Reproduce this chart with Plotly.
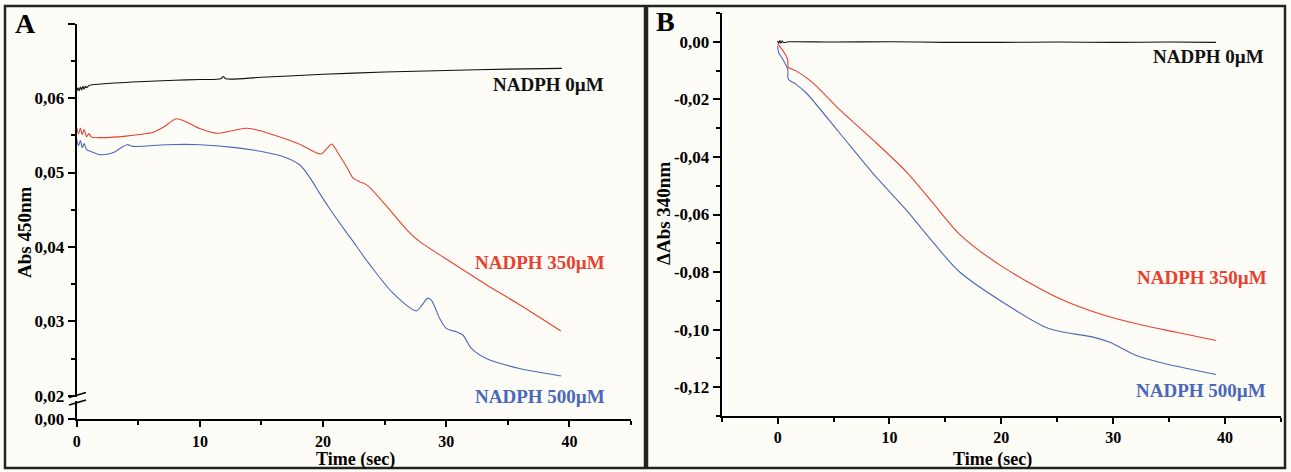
import plotly.graph_objects as go

# ---- data ------------------------------------------------------------------
# panel A : Abs 450nm vs time
a_t_0 = [0, 0.1, 0.2, 0.3, 0.4, 0.5, 0.6, 0.7, 0.8, 1.0, 2, 5, 8, 10, 11.7, 11.9, 12.1,
         15, 20, 25, 30, 35, 39.4]
a_v_0 = [0.0609, 0.0614, 0.0610, 0.0615, 0.0611, 0.0616, 0.0612, 0.0616, 0.0614, 0.0617,
         0.0619, 0.0622, 0.0624, 0.0625, 0.0626, 0.0629, 0.0626, 0.0628, 0.0632, 0.0635,
         0.0637, 0.0639, 0.0640]

a_t_350 = [0, 0.15, 0.3, 0.45, 0.6, 0.8, 1.0, 1.2, 2, 4, 6.2, 7, 8.1, 9, 10, 11.4, 12.5,
           13.7, 14.5, 16, 18, 19.8, 20.3, 20.7, 21.2, 22.0, 22.4, 23.0, 23.4, 23.8, 25,
           26.9, 27.8, 30.5, 33.25, 35.96, 39.3]
a_v_350 = [0.05608, 0.05523, 0.05597, 0.05509, 0.05577, 0.05482, 0.05523, 0.05476, 0.05469,
           0.05489, 0.05541, 0.05604, 0.05722, 0.05672, 0.05591, 0.05527, 0.05557, 0.05595,
           0.05577, 0.05503, 0.05388, 0.05249, 0.05320, 0.05384, 0.05266, 0.05050, 0.04932,
           0.04874, 0.04847, 0.04797, 0.04577, 0.04212, 0.04077, 0.03784, 0.03492, 0.03222,
           0.02870]

a_t_500 = [0, 0.15, 0.3, 0.45, 0.6, 0.8, 1.0, 1.9, 3.0, 3.6, 4.1, 4.6, 7.3, 10, 12.7, 15.4,
           16.8, 18.1, 19.0, 19.7, 20.5, 21.76, 22.3, 23.79, 25.68, 27.57, 28.0, 28.52, 28.8,
           29.06, 29.46, 30.0, 30.5, 30.82, 31.35, 32.04, 33.25, 35.96, 39.33]
a_v_500 = [0.05451, 0.05361, 0.05428, 0.05334, 0.05388, 0.05307, 0.05293, 0.05239, 0.05270,
           0.05334, 0.05374, 0.05351, 0.05374, 0.05374, 0.05338, 0.05270, 0.05212, 0.05104,
           0.04915, 0.04726, 0.04523, 0.04226, 0.04104, 0.03762, 0.03378, 0.03140, 0.03212,
           0.03311, 0.03280, 0.03199, 0.03041, 0.02905, 0.02874, 0.02861, 0.02816, 0.02635,
           0.02500, 0.02365, 0.02266]

# panel B : delta Abs 340nm vs time
b_t_0 = [0, 0.1, 0.2, 0.3, 0.4, 0.5, 1, 5, 10, 15, 20, 25, 30, 35, 39.2]
b_v_0 = [0.0003, -0.0006, 0.0004, -0.0005, 0.0003, -0.0002, 0.0, -0.0001, 0.0, -0.0002,
         -0.0002, -0.0001, -0.0002, -0.0001, -0.0002]

b_t_350 = [0.0, 0.15, 0.89, 0.96, 1.65, 3.13, 5.52, 8.5, 11.49, 13.84, 16.25, 20.12, 25.2,
           28.77, 32.65, 35.64, 39.21]
b_v_350 = [-0.0008, -0.0014, -0.0060, -0.0089, -0.0101, -0.0142, -0.0235, -0.0340, -0.0451,
           -0.0558, -0.0668, -0.0782, -0.0892, -0.0945, -0.0985, -0.1009, -0.1038]

b_t_500 = [0.0, 0.09, 0.45, 0.9, 0.96, 1.65, 2.54, 5.52, 8.5, 11.49, 13.9, 16.25, 20.1, 24.3,
           28.2, 29.7, 32.06, 34.1, 39.2]
b_v_500 = [-0.0015, -0.0037, -0.0060, -0.0095, -0.0130, -0.0148, -0.0177, -0.0316, -0.0456,
           -0.0584, -0.0697, -0.0799, -0.0904, -0.0997, -0.1026, -0.1044, -0.1090, -0.1113,
           -0.1156]

# tick labels
a_yticks = [0.02, 0.03, 0.04, 0.05, 0.06, 0.07]
a_yticks_minor = [0.025, 0.035, 0.045, 0.055, 0.065]
b_yticks = [-0.12, -0.10, -0.08, -0.06, -0.04, -0.02, 0.00]
b_yticks_minor = [-0.13, -0.11, -0.09, -0.07, -0.05, -0.03, -0.01, 0.01]

BLACK = '#111111'
RED = '#e8412f'
BLUE = '#4a68b8'
FONT = 'Liberation Serif'
W, H = 1291, 472


def px(x):
    return x / W


def py(y):
    return 1 - y / H


def comma(v):
    return f'{v:.2f}'.replace('.', ',')


fig = go.Figure()

for t, v, c in [(a_t_0, a_v_0, BLACK), (a_t_350, a_v_350, RED), (a_t_500, a_v_500, BLUE)]:
    fig.add_trace(go.Scatter(x=t, y=v, mode='lines',
                             line=dict(color=c, width=1.1, shape='spline', smoothing=0.8),
                             xaxis='x', yaxis='y', showlegend=False))

# empty trace so the small lower part of the broken axis (0,00) gets drawn
fig.add_trace(go.Scatter(x=[], y=[], mode='lines', xaxis='x', yaxis='y3',
                         showlegend=False, hoverinfo='skip'))

for t, v, c in [(b_t_0, b_v_0, BLACK), (b_t_350, b_v_350, RED), (b_t_500, b_v_500, BLUE)]:
    fig.add_trace(go.Scatter(x=t, y=v, mode='lines',
                             line=dict(color=c, width=1.1, shape='spline', smoothing=0.8),
                             xaxis='x2', yaxis='y2', showlegend=False))

tickfont = dict(family=FONT, size=17, color='black', weight='bold')
xtickfont = dict(tickfont, size=16)
minor_common = dict(ticks='outside', ticklen=4, tickwidth=1.5, tickcolor='black')
axis_common = dict(showline=True, linecolor='black', linewidth=2, showgrid=False,
                   zeroline=False, ticks='outside', ticklen=7, tickwidth=2,
                   tickcolor='black', tickfont=tickfont, fixedrange=True, automargin=False)

fig.update_layout(
    template='none',
    width=W, height=H, autosize=False,
    margin=dict(l=0, r=0, t=0, b=0, pad=0),
    paper_bgcolor='#fdfcf7', plot_bgcolor='rgba(0,0,0,0)',
    # panel A (broken y axis: main part + tiny part holding 0,00)
    xaxis=dict(axis_common, domain=[px(76.7), px(631)], range=[0, 45], anchor='y3',
               tickmode='linear', tick0=0, dtick=10, ticklen=6, tickfont=xtickfont,
               minor=dict(minor_common, tick0=0, dtick=5)),
    yaxis=dict(axis_common, domain=[py(397.2), py(23.7)], range=[0.0198, 0.07], anchor='x',
               tickmode='array', tickvals=a_yticks,
               ticktext=[comma(v) if v < 0.065 else '' for v in a_yticks],
               minor=dict(minor_common, tickmode='array', tickvals=a_yticks_minor)),
    yaxis3=dict(axis_common, domain=[py(419.3), py(400.8)], range=[-0.0001, 0.0024], anchor='x',
                tickmode='array', tickvals=[0.0], ticktext=['0,00']),
    # panel B
    xaxis2=dict(axis_common, domain=[px(721.7), px(1281)], range=[-5, 45], anchor='y2',
                tickmode='linear', tick0=0, dtick=10, ticklen=6, tickfont=xtickfont,
                minor=dict(minor_common, tick0=-5, dtick=5)),
    yaxis2=dict(axis_common, domain=[py(416), py(13)], range=[-0.13, 0.01], anchor='x2',
                tickmode='array', tickvals=b_yticks, ticktext=[comma(v) for v in b_yticks],
                minor=dict(minor_common, tickmode='array', tickvals=b_yticks_minor)),
)

# panel frames and the axis break marks
shapes = [
    dict(type='rect', xref='paper', yref='paper', x0=px(5), x1=px(645), y0=py(468), y1=py(6),
         line=dict(color='#222', width=2.5)),
    dict(type='rect', xref='paper', yref='paper', x0=px(647), x1=px(1285), y0=py(468), y1=py(6),
         line=dict(color='#222', width=2.5)),
    dict(type='line', xref='paper', yref='paper', x0=px(69), x1=px(86), y0=py(397.5), y1=py(392.5),
         line=dict(color='black', width=1.8)),
    dict(type='line', xref='paper', yref='paper', x0=px(69), x1=px(86), y0=py(405), y1=py(400),
         line=dict(color='black', width=1.8)),
]
fig.update_layout(shapes=shapes)

txt = dict(family=FONT, weight='bold')
ann = [
    dict(text='A', x=px(25), y=py(24), font=dict(txt, size=28, color='black')),
    dict(text='B', x=px(666), y=py(22), font=dict(txt, size=28, color='black')),
    dict(text='Abs 450nm', x=px(24), y=py(232), textangle=-90, font=dict(txt, size=19, color='black')),
    dict(text='ΔAbs 340nm', x=px(663), y=py(214), textangle=-90, font=dict(txt, size=19, color='black')),
    dict(text='Time (sec)', x=px(355), y=py(459), font=dict(txt, size=18, color='black')),
    dict(text='Time (sec)', x=px(992), y=py(459), font=dict(txt, size=18, color='black')),
    dict(text='NADPH 0µM', x=px(606), y=py(85), xanchor='right', font=dict(txt, size=19, color=BLACK)),
    dict(text='NADPH 350µM', x=px(607), y=py(262), xanchor='right', font=dict(txt, size=19, color=RED)),
    dict(text='NADPH 500µM', x=px(607), y=py(396), xanchor='right', font=dict(txt, size=19, color=BLUE)),
    dict(text='NADPH 0µM', x=px(1266), y=py(56), xanchor='right', font=dict(txt, size=19, color=BLACK)),
    dict(text='NADPH 350µM', x=px(1269), y=py(277), xanchor='right', font=dict(txt, size=19, color=RED)),
    dict(text='NADPH 500µM', x=px(1268), y=py(390), xanchor='right', font=dict(txt, size=19, color=BLUE)),
]
for a in ann:
    a.setdefault('xanchor', 'center')
    fig.add_annotation(xref='paper', yref='paper', yanchor='middle', showarrow=False, **a)

# the page's default 8px body margin would shift the whole figure
fig.write_html("out.html",
               config={'displayModeBar': False, 'responsive': False},
               post_script="document.body.style.margin='0';document.body.style.overflow='hidden';")
